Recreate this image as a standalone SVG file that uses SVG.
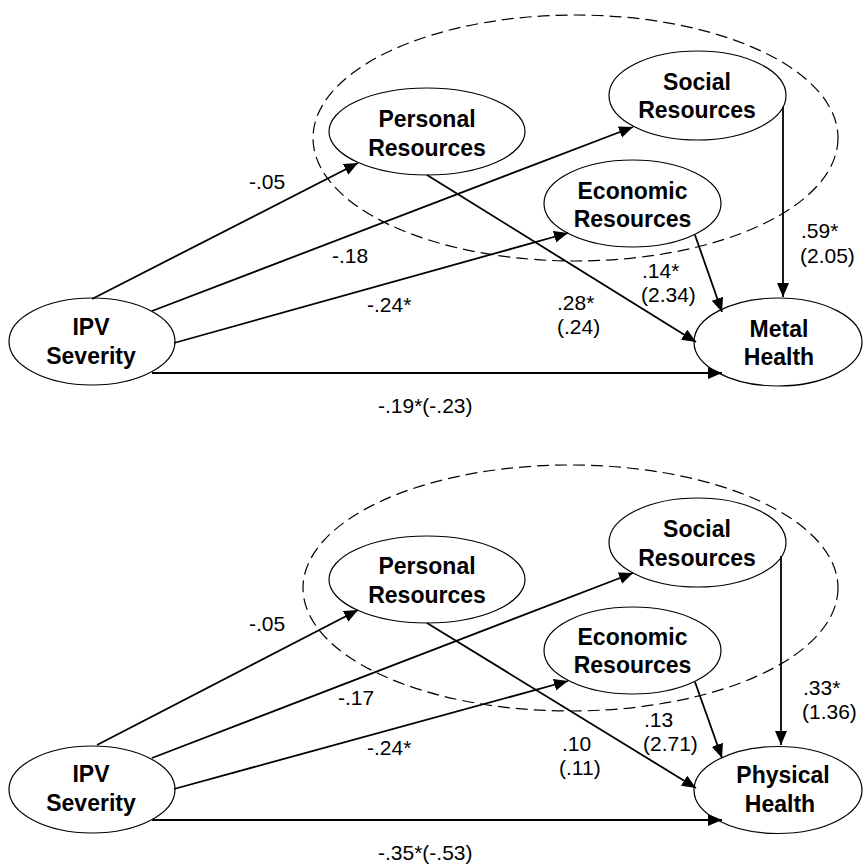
<svg xmlns="http://www.w3.org/2000/svg" width="865" height="866" viewBox="0 0 865 866">
<style>
.node{fill:#fff;stroke:#000;stroke-width:1.2}
.grp{fill:none;stroke:#000;stroke-width:1.2;stroke-dasharray:12 6}
.lab{font-family:"Liberation Sans",Arial,sans-serif;font-weight:bold;font-size:23px;text-anchor:middle;fill:#000}
.num{font-family:"Liberation Sans",Arial,sans-serif;font-size:21px;fill:#000}
.arr{fill:none;stroke:#000;stroke-width:1.8;marker-end:url(#ah)}
</style>
<defs>
<marker id="ah" markerUnits="userSpaceOnUse" markerWidth="15" markerHeight="13" refX="14" refY="6" orient="auto">
<path d="M0,0 L14,6 L0,12 z" fill="#000"/>
</marker>
</defs>
<rect width="865" height="866" fill="#fff"/>

<!-- Top panel -->
<ellipse class="grp" cx="575.5" cy="138" rx="262.5" ry="123"/>
<g id="t-ipv"><ellipse class="node" cx="92" cy="341.5" rx="83" ry="43.5"/><text class="lab" x="91" y="335">IPV</text><text class="lab" x="91" y="364">Severity</text></g>
<g id="t-personal"><ellipse class="node" cx="427" cy="131.5" rx="98" ry="43.5"/><text class="lab" x="427" y="127">Personal</text><text class="lab" x="427" y="156">Resources</text></g>
<g id="t-social"><ellipse class="node" cx="697.5" cy="95.5" rx="88.5" ry="44.5"/><text class="lab" x="697" y="90">Social</text><text class="lab" x="697" y="118">Resources</text></g>
<g id="t-economic"><ellipse class="node" cx="632.5" cy="203.5" rx="88.5" ry="43.5"/><text class="lab" x="632.5" y="199">Economic</text><text class="lab" x="632.5" y="227">Resources</text></g>
<g id="t-mental"><ellipse class="node" cx="778" cy="342" rx="84" ry="44"/><text class="lab" x="779" y="337">Metal</text><text class="lab" x="779" y="365">Health</text></g>
<g id="t-edges">
<line class="arr" x1="92" y1="299" x2="358" y2="163"/>
<line class="arr" x1="152" y1="311" x2="633" y2="127"/>
<line class="arr" x1="174" y1="343" x2="568" y2="233"/>
<line class="arr" x1="152" y1="373" x2="722" y2="373"/>
<line class="arr" x1="427" y1="175" x2="696" y2="342"/>
<line class="arr" x1="695" y1="235" x2="722" y2="312"/>
<line class="arr" x1="783" y1="107" x2="783" y2="297"/>
</g>
<g id="t-labels">
<text class="num" x="249" y="189">-.05</text>
<text class="num" x="332" y="263">-.18</text>
<text class="num" x="367" y="312">-.24*</text>
<text class="num" x="378" y="413">-.19*(-.23)</text>
<text class="num" x="642" y="278">.14*</text>
<text class="num" x="641" y="302">(2.34)</text>
<text class="num" x="557" y="310">.28*</text>
<text class="num" x="557" y="334">(.24)</text>
<text class="num" x="801" y="238">.59*</text>
<text class="num" x="800" y="263">(2.05)</text>
</g>

<!-- Bottom panel -->
<ellipse class="grp" cx="570.5" cy="588" rx="267.5" ry="123"/>
<g id="b-ipv"><ellipse class="node" cx="92" cy="789.5" rx="83" ry="43.5"/><text class="lab" x="91" y="782">IPV</text><text class="lab" x="91" y="811">Severity</text></g>
<g id="b-personal"><ellipse class="node" cx="427" cy="579.5" rx="98" ry="43.5"/><text class="lab" x="427" y="574">Personal</text><text class="lab" x="427" y="603">Resources</text></g>
<g id="b-social"><ellipse class="node" cx="697.5" cy="542.5" rx="88.5" ry="44.5"/><text class="lab" x="697" y="537">Social</text><text class="lab" x="697" y="566">Resources</text></g>
<g id="b-economic"><ellipse class="node" cx="632.5" cy="650.5" rx="88.5" ry="43.5"/><text class="lab" x="632.5" y="645">Economic</text><text class="lab" x="632.5" y="673">Resources</text></g>
<g id="b-physical"><ellipse class="node" cx="778" cy="790" rx="84" ry="43.5"/><text class="lab" x="783" y="783">Physical</text><text class="lab" x="780" y="812">Health</text></g>
<g id="b-edges">
<line class="arr" x1="97" y1="745" x2="358" y2="610"/>
<line class="arr" x1="152" y1="758" x2="633" y2="573"/>
<line class="arr" x1="174" y1="789" x2="568" y2="681"/>
<line class="arr" x1="152" y1="820" x2="722" y2="820"/>
<line class="arr" x1="427" y1="623" x2="696" y2="788"/>
<line class="arr" x1="695" y1="682" x2="722" y2="758"/>
<line class="arr" x1="781" y1="556" x2="781" y2="745"/>
</g>
<g id="b-labels">
<text class="num" x="249" y="631">-.05</text>
<text class="num" x="338" y="705">-.17</text>
<text class="num" x="367" y="755">-.24*</text>
<text class="num" x="378" y="860">-.35*(-.53)</text>
<text class="num" x="644" y="727">.13</text>
<text class="num" x="643" y="751">(2.71)</text>
<text class="num" x="562" y="751">.10</text>
<text class="num" x="559" y="775">(.11)</text>
<text class="num" x="803" y="695">.33*</text>
<text class="num" x="802" y="719">(1.36)</text>
</g>
</svg>
